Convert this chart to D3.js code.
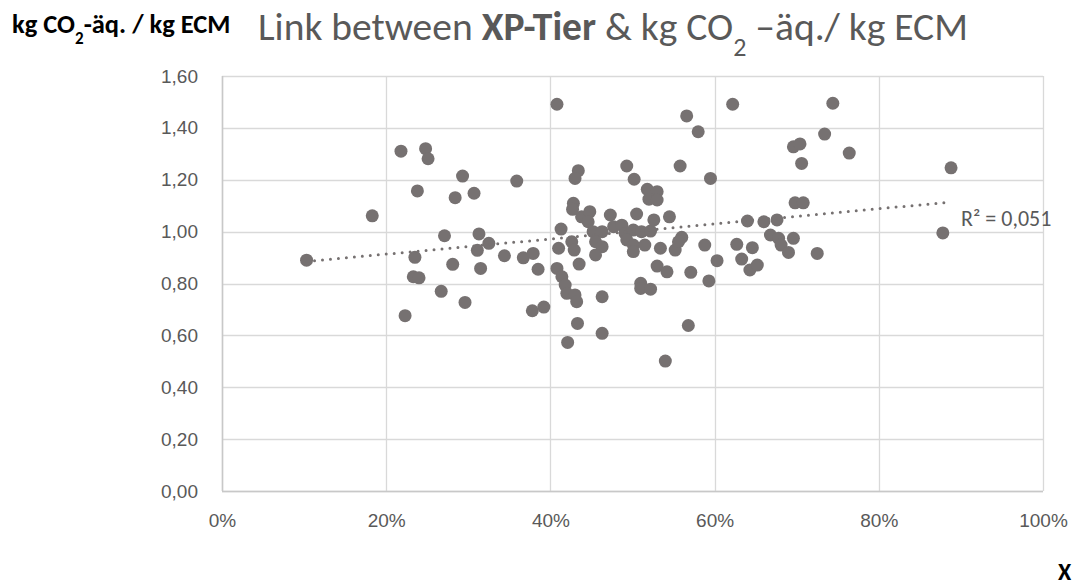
<!DOCTYPE html>
<html>
<head>
<meta charset="utf-8">
<script src="https://cdn.jsdelivr.net/npm/d3@7"></script>
<style>
body { margin: 0; background: #fff; }
svg { font-family: Carlito, Lato, "Open Sans", sans-serif; }
</style>
</head>
<body>
<svg id="svg" width="1076" height="585"></svg>
<script>
// XP-Tier share (x) vs kg CO2-eq per kg ECM (y)
var xpTier = [0.103,0.183,0.218,0.223,0.235,0.233,0.240,0.238,0.248,0.251,
  0.267,0.271,0.281,0.284,0.293,0.296,0.307,0.313,0.311,0.325,
  0.315,0.344,0.367,0.379,0.385,0.359,0.378,0.392,0.408,0.421,
  0.413,0.410,0.408,0.414,0.418,0.420,0.430,0.432,0.433,0.434,
  0.430,0.428,0.427,0.426,0.429,0.435,0.438,0.448,0.446,0.452,
  0.463,0.455,0.463,0.455,0.463,0.463,0.473,0.477,0.487,0.491,
  0.493,0.502,0.501,0.511,0.522,0.493,0.501,0.515,0.501,0.505,
  0.526,0.545,0.518,0.530,0.520,0.530,0.534,0.552,0.560,0.556,
  0.530,0.542,0.571,0.510,0.510,0.522,0.540,0.568,0.566,0.580,
  0.558,0.595,0.588,0.603,0.593,0.622,0.627,0.640,0.646,0.633,
  0.643,0.652,0.660,0.676,0.668,0.678,0.681,0.690,0.696,0.698,
  0.708,0.696,0.704,0.706,0.725,0.734,0.744,0.764,0.888,0.878];
var co2 = [0.890,1.061,1.310,0.676,0.901,0.826,0.822,1.157,1.320,1.281,
  0.770,0.984,0.874,1.131,1.214,0.727,1.148,0.991,0.928,0.955,
  0.858,0.907,0.899,0.916,0.855,1.195,0.695,0.709,1.491,0.573,
  1.010,0.936,0.858,0.826,0.794,0.762,0.756,0.730,0.646,1.235,
  1.205,1.109,1.086,0.961,0.929,0.875,1.057,1.077,1.038,1.000,
  1.000,0.961,0.942,0.910,0.749,0.608,1.064,1.019,1.025,0.993,
  1.253,1.202,1.006,1.000,1.002,0.968,0.948,0.948,0.923,1.068,
  1.045,1.057,1.163,1.154,1.125,1.122,0.936,0.929,0.978,0.961,
  0.867,0.845,0.843,0.801,0.781,0.778,0.501,0.638,1.446,1.385,
  1.253,1.205,0.948,0.888,0.810,1.491,0.951,1.041,0.938,0.894,
  0.852,0.871,1.038,1.045,0.987,0.974,0.948,0.920,0.974,1.111,
  1.111,1.327,1.338,1.263,0.916,1.376,1.495,1.303,1.246,0.995];
// trend line end points (linear, dotted) and label
var trendX = [0.103, 0.888];
var trendY = [0.885, 1.114];
var r2Label = "R² = 0,051";
var xTicks = [0, 0.2, 0.4, 0.6, 0.8, 1.0];
var yTicks = [0, 0.2, 0.4, 0.6, 0.8, 1.0, 1.2, 1.4, 1.6];

var svg = d3.select("#svg");
var textGray = "#595959";
var dotGray = "#767171";

var x = d3.scaleLinear().domain([0, 1]).range([222, 1043]);
var y = d3.scaleLinear().domain([0, 1.6]).range([491, 76]);

//GRID
var grid = svg.append("g").attr("class", "grid");
grid.selectAll(".hgrid").data(yTicks).enter().append("line")
.attr("x1", x(0)).attr("x2", x(1))
.attr("y1", function(d){ return Math.round(y(d)) + 0.5; })
.attr("y2", function(d){ return Math.round(y(d)) + 0.5; })
.attr("stroke", "#d9d9d9").attr("stroke-width", 1.3);
grid.selectAll(".vgrid").data(xTicks).enter().append("line")
.attr("y1", y(0)).attr("y2", y(1.6))
.attr("x1", function(d){ return Math.round(x(d)) + 0.5; })
.attr("x2", function(d){ return Math.round(x(d)) + 0.5; })
.attr("stroke", "#d9d9d9").attr("stroke-width", 1.3);

// axis lines (slightly darker)
svg.append("line").attr("x1", x(0)).attr("x2", x(1))
.attr("y1", Math.round(y(0)) + 0.5).attr("y2", Math.round(y(0)) + 0.5)
.attr("stroke", "#c8c8c8").attr("stroke-width", 1.5);
svg.append("line").attr("y1", y(0)).attr("y2", y(1.6))
.attr("x1", Math.round(x(0)) + 0.5).attr("x2", Math.round(x(0)) + 0.5)
.attr("stroke", "#c8c8c8").attr("stroke-width", 1.5);

// AXES (labels only, Excel style)
var fmtY = function(d){ return d3.format(".2f")(d).replace(".", ","); };
var yAxis = d3.axisLeft(y).tickValues(yTicks).tickFormat(fmtY).tickSize(0).tickPadding(24);
var gy = svg.append("g").attr("transform", "translate(" + x(0) + ",0)").call(yAxis);
gy.select(".domain").remove();
gy.selectAll("text").style("font-size", "19px").attr("fill", textGray);

var xAxis = d3.axisBottom(x).tickValues(xTicks).tickFormat(d3.format(".0%")).tickSize(0).tickPadding(23);
var gx = svg.append("g").attr("transform", "translate(0," + y(0) + ")").call(xAxis);
gx.select(".domain").remove();
gx.selectAll("text").style("font-size", "19px").attr("fill", textGray);

// POINTS
var pts = d3.range(xpTier.length).map(function(i){ return {x: xpTier[i], y: co2[i]}; });
svg.append("g").selectAll("circle").data(pts).enter().append("circle")
.attr("cx", function(d){ return x(d.x); })
.attr("cy", function(d){ return y(d.y); })
.attr("r", 6.5)
.attr("fill", dotGray);

// TREND LINE (dotted)
var line = d3.line().x(function(d){ return x(d[0]); }).y(function(d){ return y(d[1]); });
svg.append("path")
.datum(d3.zip(trendX, trendY))
.attr("d", line)
.attr("fill", "none")
.attr("stroke", dotGray)
.attr("stroke-width", 3)
.attr("stroke-linecap", "round")
.attr("stroke-dasharray", "0,8");

svg.append("text")
.attr("x", 961).attr("y", 226)
.style("font-size", "22px").attr("fill", textGray)
.text(r2Label);

// TITLE
var title = svg.append("text")
.attr("x", 258).attr("y", 40)
.style("font-size", "39.5px").style("font-weight", 300)
.attr("fill", textGray);
title.append("tspan").text("Link between ");
title.append("tspan").style("font-weight", "bold").text("XP-Tier");
title.append("tspan").text(" & kg CO");
title.append("tspan").attr("baseline-shift", "sub").style("font-size", "26px").text("2");
title.append("tspan").text(" \u2013äq./ kg ECM");

// y axis title (top left)
var ytitle = svg.append("text")
.attr("x", 12).attr("y", 33)
.style("font-size", "26.5px").style("font-weight", "bold")
.attr("fill", "#000");
ytitle.append("tspan").text("kg CO");
ytitle.append("tspan").attr("baseline-shift", "sub").style("font-size", "17px").text("2");
ytitle.append("tspan").text("-äq. / kg ECM");

// x axis title (bottom right)
svg.append("text")
.attr("x", 1058).attr("y", 580)
.style("font-size", "24px").style("font-weight", "bold")
.attr("fill", "#000")
.text("X");
</script>
</body>
</html>
